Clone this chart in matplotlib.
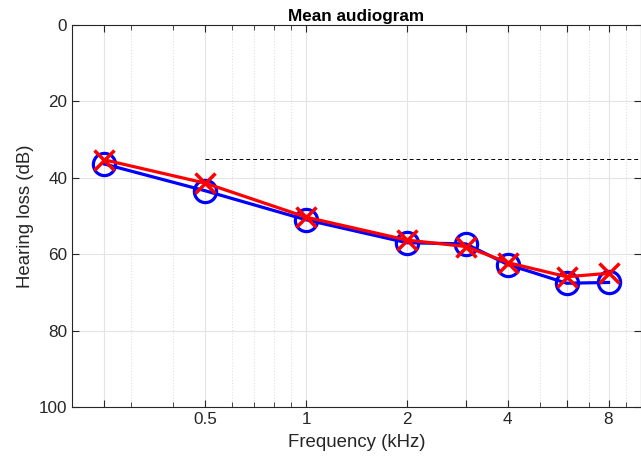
import matplotlib
matplotlib.use("Agg")
import matplotlib.pyplot as plt
from matplotlib.ticker import FixedLocator, NullFormatter

plt.rcParams['font.family'] = ['Liberation Sans', 'DejaVu Sans']

freqs = [0.25, 0.5, 1, 2, 3, 4, 6, 8]
loss_blue = [36.4, 43.4, 51.0, 57.0, 57.3, 62.7, 67.6, 67.4]
loss_red = [35.3, 41.4, 50.3, 56.3, 58.0, 62.2, 65.9, 65.0]
ref_level = 35
ref_start = 0.5

xticks = [0.25, 0.5, 1, 2, 3, 4, 6, 8]
xticklabels = ['', '0.5', '1', '2', '', '4', '', '8']
minor_ticks = [0.2, 0.3, 0.4, 0.6, 0.7, 0.8, 0.9, 5, 7, 9]
yticks = [0, 20, 40, 60, 80, 100]

fig = plt.figure(figsize=(6.41, 4.61), dpi=100)
ax = fig.add_axes([72 / 641, 54 / 461, 569 / 641, 382 / 461])

ax.set_xscale('log')
ax.set_xlim(0.2, 10)
ax.set_ylim(100, 0)

ax.plot([ref_start, 10], [ref_level, ref_level], color='black', lw=0.7,
        ls=(0, (4, 3)), zorder=2)

ax.plot(freqs, loss_blue, color='blue', lw=2.3, marker='o', ms=16,
        mfc='none', mec='blue', mew=2.3, zorder=3)
ax.plot(freqs, loss_red, color='red', lw=2.3, marker='x', ms=14,
        mec='red', mew=2.5, zorder=4)

ax.xaxis.set_major_locator(FixedLocator(xticks))
ax.set_xticklabels(xticklabels)
ax.xaxis.set_minor_locator(FixedLocator(minor_ticks))
ax.xaxis.set_minor_formatter(NullFormatter())
ax.set_yticks(yticks)

ax.grid(True, which='major', color='#e3e3e3', lw=0.8)
ax.grid(True, which='minor', axis='x', color='#e0e0e0', lw=0.8, ls=':')
ax.set_axisbelow(True)

ax.tick_params(which='both', direction='in', top=True, right=True,
               colors='#262626', labelsize=12.3, labelcolor='#262626')
ax.tick_params(which='major', length=5, width=0.8)
ax.tick_params(which='minor', length=3.5, width=0.6)
for s in ax.spines.values():
    s.set_color('#262626')
    s.set_linewidth(0.8)

ax.set_xlabel('Frequency (kHz)', fontsize=13.4, color='#262626', labelpad=5)
ax.set_ylabel('Hearing loss (dB)', fontsize=13.4, color='#262626', labelpad=3)
ax.set_title('Mean audiogram', fontsize=12.3, fontweight='bold', pad=3)

fig.savefig('out.png', dpi=100)
